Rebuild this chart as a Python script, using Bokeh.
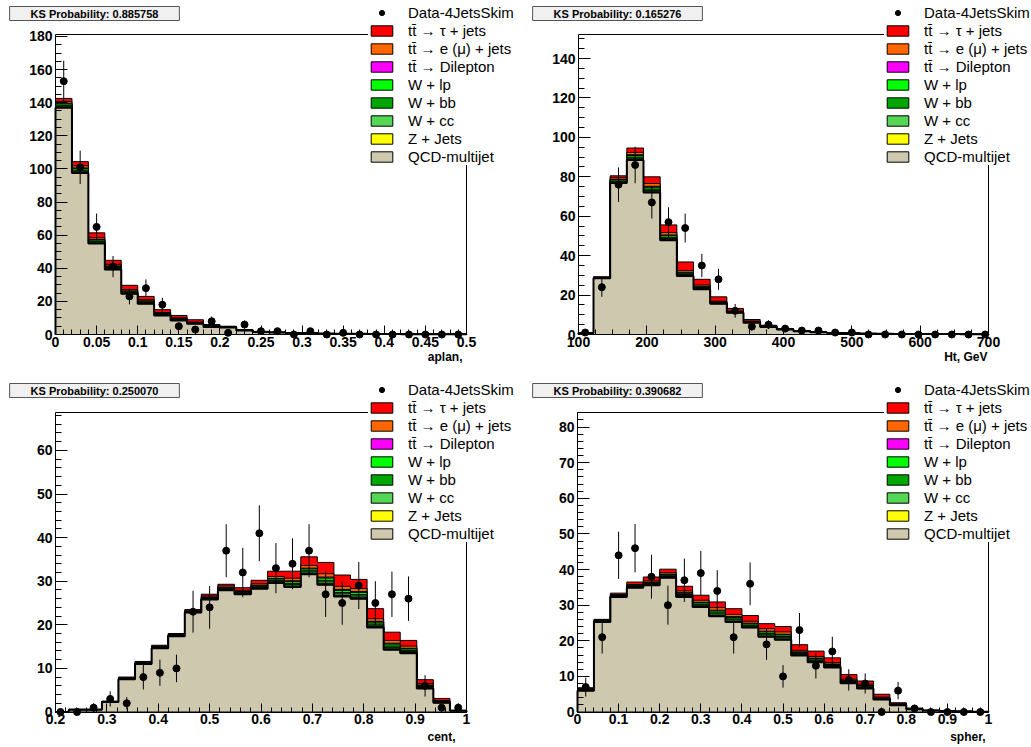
import numpy as np
from bokeh.plotting import figure
from bokeh.models import Range1d, FixedTicker, Label, Legend, LegendItem
from bokeh.layouts import row, column
from bokeh.embed import file_html
from bokeh.resources import INLINE

# ---------------- data ----------------
# aplan: 25 bins 0..0.5
aplan_range = (0.0, 0.5)
aplan_nbins = 25
aplan_qcd = [137.0, 97.5, 55.0, 39.2, 24.6, 18.6, 11.5, 8.5, 6.5, 4.5, 4.3, 2.4, 1.5, 1.2, 0.9, 0.8, 0.6, 0.5, 0.4, 0.3, 0.3, 0.2, 0.2, 0.1, 0.1]
aplan_z = [0.3, 0.4, 0.3, 0.3, 0.2, 0.2, 0.1, 0.1, 0.1, 0.1, 0.05, 0.05, 0, 0, 0, 0, 0, 0, 0, 0, 0, 0, 0, 0, 0]
aplan_wcc = [0.6, 0.7, 0.6, 0.5, 0.4, 0.4, 0.3, 0.3, 0.1, 0.1, 0.05, 0.05, 0.05, 0, 0, 0, 0, 0, 0, 0, 0, 0, 0, 0, 0]
aplan_wbb = [0.6, 0.7, 0.5, 0.5, 0.4, 0.4, 0.3, 0.3, 0.2, 0.2, 0.1, 0.05, 0.05, 0.05, 0, 0, 0, 0, 0, 0, 0, 0, 0, 0, 0]
aplan_wlp = [0.8, 0.9, 0.7, 0.6, 0.5, 0.5, 0.4, 0.3, 0.2, 0.2, 0.1, 0.1, 0.1, 0.05, 0.05, 0, 0, 0, 0, 0, 0, 0, 0, 0, 0]
aplan_dil = [0.4, 0.4, 0.3, 0.3, 0.2, 0.2, 0.2, 0.1, 0.1, 0.1, 0.05, 0.05, 0, 0, 0, 0, 0, 0, 0, 0, 0, 0, 0, 0, 0]
aplan_emu = [1.1, 1.3, 1.0, 1.0, 0.8, 0.7, 0.5, 0.5, 0.3, 0.3, 0.15, 0.1, 0.1, 0.05, 0.05, 0.05, 0, 0, 0, 0, 0, 0, 0, 0, 0]
aplan_tau = [1.8, 2.5, 3.0, 2.4, 2.6, 2.0, 1.7, 1.4, 1.4, 0.5, 0.2, 0.2, 0.1, 0.1, 0.1, 0.1, 0.05, 0.05, 0.05, 0, 0, 0, 0, 0, 0]
aplan_data = [153, 101, 65, 41, 23, 28, 18, 5, 3, 8, 1, 6, 2, 2, 0, 2, 0, 1, 0, 0, 0, 0, 0, 0, 0]
aplan_xticks = [0, 0.05, 0.1, 0.15, 0.2, 0.25, 0.3, 0.35, 0.4, 0.45, 0.5]
aplan_xlabels = ["0", "0.05", "0.1", "0.15", "0.2", "0.25", "0.3", "0.35", "0.4", "0.45", "0.5"]
aplan_yticks = [0, 20, 40, 60, 80, 100, 120, 140, 160, 180]

# Ht: bins of 1000/41 GeV, bins 4..28
ht_bin_width = 1000.0 / 41
ht_first_bin = 4
ht_nbins = 25
ht_qcd = [0.8, 28.5, 76.8, 88.5, 72.0, 47.8, 29.7, 22.9, 15.6, 11.0, 6.0, 3.8, 2.5, 1.7, 1.1, 0.8, 0.6, 0.5, 0.4, 0.3, 0.3, 0.2, 0.2, 0.1, 0.1]
ht_z = [0, 0, 0.2, 0.3, 0.4, 0.3, 0.2, 0.2, 0.1, 0.1, 0.1, 0.05, 0, 0, 0, 0, 0, 0, 0, 0, 0, 0, 0, 0, 0]
ht_wcc = [0.05, 0.1, 0.4, 0.6, 0.7, 0.6, 0.5, 0.4, 0.2, 0.1, 0.1, 0.05, 0.05, 0, 0, 0, 0, 0, 0, 0, 0, 0, 0, 0, 0]
ht_wbb = [0, 0.1, 0.4, 0.6, 0.7, 0.6, 0.4, 0.3, 0.2, 0.1, 0.1, 0.1, 0.05, 0.05, 0, 0, 0, 0, 0, 0, 0, 0, 0, 0, 0]
ht_wlp = [0.05, 0.1, 0.6, 0.8, 0.9, 0.8, 0.5, 0.4, 0.3, 0.2, 0.15, 0.1, 0.05, 0.05, 0.05, 0.05, 0.05, 0, 0, 0, 0, 0, 0, 0, 0]
ht_dil = [0, 0.05, 0.3, 0.4, 0.5, 0.4, 0.3, 0.2, 0.1, 0.1, 0.1, 0.05, 0.05, 0.05, 0, 0, 0, 0, 0, 0, 0, 0, 0, 0, 0]
ht_emu = [0, 0.15, 0.8, 1.2, 1.4, 1.2, 0.9, 0.7, 0.4, 0.3, 0.25, 0.15, 0.1, 0.05, 0.05, 0.05, 0, 0, 0, 0, 0, 0, 0, 0, 0]
ht_tau = [0, 0.3, 1.0, 2.2, 3.4, 3.9, 4.3, 2.9, 2.2, 1.3, 0.8, 0.4, 0.2, 0.1, 0.1, 0.05, 0.05, 0, 0, 0, 0, 0, 0, 0, 0]
ht_data = [1, 24, 76, 86, 67, 57, 54, 35, 28, 12, 4, 5, 3, 2, 2, 1, 1, 0, 0, 0, 0, 0, 0, 0, 0]
ht_xticks = [100, 200, 300, 400, 500, 600, 700]
ht_xlabels = ["100", "200", "300", "400", "500", "600", "700"]
ht_yticks = [0, 20, 40, 60, 80, 100, 120, 140]

# cent: bins of 1/31, bins 6..30
cent_bin_width = 1.0 / 31
cent_first_bin = 6
cent_nbins = 25
cent_qcd = [0, 0.5, 0.5, 2.3, 7.5, 11.0, 14.6, 17.4, 22.8, 25.8, 27.9, 27.0, 28.3, 29.6, 28.7, 31.6, 29.2, 26.5, 26.0, 19.4, 14.3, 13.5, 5.4, 2.1, 0.3]
cent_z = [0, 0.01, 0.01, 0.01, 0.03, 0.04, 0.05, 0.04, 0.04, 0.08, 0.1, 0.09, 0.11, 0.15, 0.2, 0.2, 0.25, 0.23, 0.23, 0.2, 0.21, 0.16, 0.11, 0.05, 0]
cent_wcc = [0, 0.02, 0.02, 0.02, 0.05, 0.06, 0.08, 0.06, 0.06, 0.12, 0.15, 0.14, 0.17, 0.22, 0.3, 0.3, 0.38, 0.35, 0.35, 0.3, 0.32, 0.24, 0.17, 0.08, 0.01]
cent_wbb = [0, 0.02, 0.02, 0.02, 0.05, 0.06, 0.08, 0.06, 0.06, 0.12, 0.15, 0.14, 0.17, 0.22, 0.3, 0.3, 0.38, 0.35, 0.35, 0.3, 0.32, 0.24, 0.17, 0.08, 0.01]
cent_wlp = [0, 0.02, 0.02, 0.02, 0.06, 0.08, 0.1, 0.08, 0.08, 0.16, 0.2, 0.18, 0.22, 0.3, 0.4, 0.4, 0.5, 0.46, 0.46, 0.4, 0.42, 0.32, 0.22, 0.1, 0.01]
cent_dil = [0, 0.01, 0.01, 0.01, 0.03, 0.04, 0.05, 0.04, 0.04, 0.08, 0.1, 0.09, 0.11, 0.15, 0.2, 0.2, 0.25, 0.23, 0.23, 0.2, 0.21, 0.16, 0.11, 0.05, 0]
cent_emu = [0, 0.03, 0.03, 0.03, 0.1, 0.12, 0.15, 0.12, 0.12, 0.25, 0.3, 0.27, 0.33, 0.45, 0.6, 0.6, 0.75, 0.7, 0.7, 0.6, 0.63, 0.5, 0.33, 0.15, 0.02]
cent_tau = [0, 0, 0, 0.1, 0.2, 0.2, 0.2, 0.2, 0.3, 0.4, 0.4, 0.6, 0.8, 1.2, 1.6, 2.0, 2.6, 2.6, 2.1, 2.3, 1.9, 1.3, 0.9, 0.5, 0.05]
cent_data = [0, 0, 1, 3, 2, 8, 9, 10, 23, 24, 37, 32, 41, 33, 34, 37, 27, 25, 29, 25, 27, 26, 6, 1, 1]
cent_xticks = [0.2, 0.3, 0.4, 0.5, 0.6, 0.7, 0.8, 0.9, 1.0]
cent_xlabels = ["0.2", "0.3", "0.4", "0.5", "0.6", "0.7", "0.8", "0.9", "1"]
cent_yticks = [0, 10, 20, 30, 40, 50, 60]

# spher: 25 bins 0..1
spher_range = (0.0, 1.0)
spher_nbins = 25
spher_qcd = [6.0, 25.3, 32.3, 34.9, 35.6, 37.7, 32.3, 29.5, 26.9, 25.3, 23.7, 21.1, 20.3, 15.9, 14.0, 12.5, 8.1, 6.6, 3.5, 1.9, 0.8, 0.4, 0.25, 0.15, 0.1]
spher_z = [0.07, 0.05, 0.07, 0.09, 0.12, 0.14, 0.17, 0.19, 0.24, 0.21, 0.18, 0.23, 0.22, 0.14, 0.16, 0.14, 0.11, 0.12, 0.07, 0.04, 0.02, 0, 0, 0, 0]
spher_wcc = [0.1, 0.08, 0.1, 0.13, 0.18, 0.21, 0.26, 0.28, 0.36, 0.32, 0.27, 0.34, 0.33, 0.21, 0.24, 0.21, 0.17, 0.18, 0.1, 0.06, 0.03, 0.01, 0.01, 0.01, 0]
spher_wbb = [0.1, 0.08, 0.1, 0.13, 0.18, 0.21, 0.26, 0.28, 0.36, 0.32, 0.27, 0.34, 0.33, 0.21, 0.24, 0.21, 0.17, 0.18, 0.1, 0.06, 0.03, 0.01, 0.01, 0.01, 0]
spher_wlp = [0.14, 0.1, 0.14, 0.18, 0.24, 0.28, 0.34, 0.38, 0.48, 0.42, 0.36, 0.46, 0.44, 0.28, 0.32, 0.28, 0.22, 0.24, 0.14, 0.08, 0.04, 0.01, 0.01, 0.01, 0]
spher_dil = [0.07, 0.05, 0.07, 0.09, 0.12, 0.14, 0.17, 0.19, 0.24, 0.21, 0.18, 0.23, 0.22, 0.14, 0.16, 0.14, 0.11, 0.12, 0.07, 0.04, 0.02, 0, 0, 0, 0]
spher_emu = [0.2, 0.15, 0.2, 0.27, 0.36, 0.42, 0.5, 0.57, 0.72, 0.63, 0.54, 0.7, 0.66, 0.42, 0.48, 0.42, 0.33, 0.36, 0.2, 0.12, 0.06, 0.02, 0.02, 0.02, 0]
spher_tau = [0.1, 0.2, 0.4, 0.7, 1.1, 1.0, 1.3, 1.4, 1.6, 1.6, 1.6, 1.4, 1.5, 1.6, 1.5, 1.3, 1.3, 0.9, 0.8, 0.3, 0.1, 0.05, 0.05, 0, 0]
spher_data = [7, 21, 44, 46, 38, 30, 37, 39, 34, 21, 36, 19, 10, 23, 13, 17, 9, 8, 0, 6, 1, 0, 0, 0, 0]
spher_xticks = [0, 0.1, 0.2, 0.3, 0.4, 0.5, 0.6, 0.7, 0.8, 0.9, 1.0]
spher_xlabels = ["0", "0.1", "0.2", "0.3", "0.4", "0.5", "0.6", "0.7", "0.8", "0.9", "1"]
spher_yticks = [0, 10, 20, 30, 40, 50, 60, 70, 80]

ks_values = ["0.885758", "0.165276", "0.250070", "0.390682"]
axis_titles = ["aplan,", "Ht, GeV", "cent,", "spher,"]

# ---------------- style ----------------
FONT = "Liberation Sans"
ORDER = ["qcd", "z", "wcc", "wbb", "wlp", "dil", "emu", "tau"]
LEGEND_ORDER = ["tau", "emu", "dil", "wlp", "wbb", "wcc", "z", "qcd"]
COLORS = dict(qcd="#cdc8ae", z="#ffff00", wcc="#55d655", wbb="#00a600",
              wlp="#00ff00", dil="#ff00ff", emu="#ff6600", tau="#ff0000")
LABELS = dict(tau="tt\u0304 \u2192 \u03c4 + jets", emu="tt\u0304 \u2192 e (\u03bc) + jets",
              dil="tt\u0304 \u2192 Dilepton", wlp="W + lp", wbb="W + bb", wcc="W + cc",
              z="Z + Jets", qcd="QCD-multijet")


def step_xy(edges, vals):
    xs = np.repeat(edges, 2)
    ys = np.concatenate([[0.0], np.repeat(vals, 2), [0.0]])
    return xs, ys


def make_panel(canvas, frame, xr, yr, edges, comps, data,
               xticks, xlabels, xminor, yticks, yminor,
               axis_title, title_dx, title_gap, ks_text, ks_center, leg_left, leg_bottom):
    cx0, cy0, cw, ch = canvas
    fx0, fy0, fx1, fy1 = frame
    sxs = (fx1 - fx0) / (xr[1] - xr[0])
    sys_ = (fy1 - fy0) / (yr[1] - yr[0])
    x_full = (xr[0] - (fx0 - cx0) / sxs, xr[1] + (cx0 + cw - fx1) / sxs)
    y_full = (yr[0] - (cy0 + ch - fy1) / sys_, yr[1] + (fy0 - cy0) / sys_)

    def scr_x(px):
        return px - cx0

    def scr_y(py):
        return cy0 + ch - py

    p = figure(width=cw, height=ch, x_range=Range1d(*x_full), y_range=Range1d(*y_full),
               output_backend="svg", toolbar_location=None,
               min_border_left=0, min_border_right=0, min_border_top=0, min_border_bottom=0)
    p.outline_line_color = None
    p.xgrid.visible = False
    p.ygrid.visible = False
    p.background_fill_color = "white"
    p.border_fill_color = "white"

    edges = np.asarray(edges, dtype=float)
    centers = (edges[:-1] + edges[1:]) / 2
    cedges = np.clip(edges, xr[0], xr[1])
    cum = np.zeros(len(centers))
    cums = {}
    for k in ORDER:
        cum = cum + np.asarray(comps[k], dtype=float)
        cums[k] = cum.copy()
    rends = {}
    for k in reversed(ORDER):
        xs, ys = step_xy(cedges, cums[k])
        rends[k] = p.patch(xs, ys, fill_color=COLORS[k], line_color="black", line_width=1)
    xs, ys = step_xy(cedges, cums["qcd"])
    p.line(xs, ys, line_color="black", line_width=2)

    d = np.asarray(data, dtype=float)
    err = np.sqrt(d)
    p.segment(centers, d - err, centers, d + err, line_color="black", line_width=1)
    dots = p.scatter(centers, d, size=7, marker="circle", fill_color="black", line_color="black")

    # frame top / right
    p.line([xr[0], xr[1]], [yr[1], yr[1]], line_color="black", line_width=1)
    p.line([xr[1], xr[1]], [yr[0], yr[1]], line_color="black", line_width=1)

    items = [LegendItem(label="Data-4JetsSkim", renderers=[dots])]
    for k in LEGEND_ORDER:
        items.append(LegendItem(label=LABELS[k], renderers=[rends[k]]))
    leg = Legend(items=items, location=(scr_x(leg_left), scr_y(leg_bottom)),
                 label_text_font=FONT, label_text_font_size="15px", label_text_color="black",
                 glyph_width=27, glyph_height=13, label_standoff=13, label_height=17,
                 spacing=1, padding=0, margin=0, border_line_color=None,
                 background_fill_color="white", background_fill_alpha=1.0)
    p.add_layout(leg)

    # axes drawn at the frame edges
    xa = p.xaxis[0]
    ya = p.yaxis[0]
    xa.fixed_location = yr[0]
    xa.bounds = xr
    ya.fixed_location = xr[0]
    ya.bounds = yr
    xa.ticker = FixedTicker(ticks=xticks, minor_ticks=xminor)
    xa.major_label_overrides = {t: s for t, s in zip(xticks, xlabels)}
    ya.ticker = FixedTicker(ticks=yticks, minor_ticks=yminor)
    for ax in (xa, ya):
        ax.axis_line_color = "black"
        ax.axis_line_width = 1
        ax.major_tick_line_color = "black"
        ax.minor_tick_line_color = "black"
        ax.major_tick_out = 0
        ax.minor_tick_out = 0
        ax.major_label_text_font = FONT
        ax.major_label_text_font_style = "bold"
        ax.major_label_text_font_size = "14px"
        ax.major_label_text_color = "black"
    xa.major_tick_in = 9
    xa.minor_tick_in = 5
    xa.major_label_standoff = 2
    ya.major_tick_in = 12
    ya.minor_tick_in = 6
    ya.major_label_standoff = 3

    # axis title, right aligned under the axis end
    p.add_layout(Label(x=scr_x(fx1 - title_dx), y=scr_y(fy1 + title_gap), x_units="screen", y_units="screen",
                       text=axis_title, text_align="right", text_baseline="top",
                       text_font=FONT, text_font_style="bold", text_font_size="12px",
                       text_color="black"))
    # KS box with shadow
    ks_cx = scr_x(cx0 + ks_center[0])
    ks_cy = scr_y(cy0 + ks_center[1])
    for dx, dy, fill, alpha, border in ((2, -2, "#555555", 0.0, None), (0, 0, "#f0f0f0", 1.0, "#555555")):
        p.add_layout(Label(x=ks_cx + dx, y=ks_cy + dy, x_units="screen", y_units="screen",
                           text=ks_text, text_align="center", text_baseline="middle",
                           text_font=FONT, text_font_style="bold", text_font_size="11px",
                           text_color="black", text_alpha=alpha,
                           background_fill_color=fill, background_fill_alpha=1.0,
                           border_line_color=border, border_line_width=1,
                           padding=(21, 1)))
    return p


def comps_of(prefix):
    g = globals()
    return {k: g[f"{prefix}_{k}"] for k in ORDER}


aplan_edges = np.linspace(aplan_range[0], aplan_range[1], aplan_nbins + 1)
ht_edges = (np.arange(ht_nbins + 1) + ht_first_bin) * ht_bin_width
cent_edges = (np.arange(cent_nbins + 1) + cent_first_bin) * cent_bin_width
spher_edges = np.linspace(spher_range[0], spher_range[1], spher_nbins + 1)

p1 = make_panel((0, 0, 515, 377), (55, 34, 466, 334), (0, 0.5), (0, 181.2),
                aplan_edges, comps_of("aplan"), aplan_data,
                aplan_xticks, aplan_xlabels, list(np.round(np.arange(0, 0.5001, 0.01), 3)),
                aplan_yticks, list(range(0, 181, 5)),
                axis_titles[0], 4, 15, "KS Probability: " + ks_values[0], (94, 13), 368, 165)
p2 = make_panel((515, 0, 516, 377), (578, 34, 988, 334), (100, 700), (0, 152.2),
                ht_edges, comps_of("ht"), ht_data,
                ht_xticks, ht_xlabels, list(range(100, 701, 25)),
                ht_yticks, list(range(0, 151, 5)),
                axis_titles[1], 1, 15, "KS Probability: " + ks_values[1], (102, 13), 884, 165)
p3 = make_panel((0, 377, 515, 370), (55, 412, 466, 711.5), (0.2, 1.0), (0, 68.7),
                cent_edges, comps_of("cent"), cent_data,
                cent_xticks, cent_xlabels, list(np.round(np.arange(0.2, 1.0001, 0.02), 3)),
                cent_yticks, list(range(0, 69, 2)),
                axis_titles[2], 11, 18, "KS Probability: " + ks_values[2], (94, 13), 368, 542)
p4 = make_panel((515, 377, 516, 370), (577, 412, 988, 711.5), (0, 1.0), (0, 84.1),
                spher_edges, comps_of("spher"), spher_data,
                spher_xticks, spher_xlabels, list(np.round(np.arange(0, 1.0001, 0.02), 3)),
                spher_yticks, list(range(0, 85, 2)),
                axis_titles[3], 3, 18, "KS Probability: " + ks_values[3], (102, 13), 884, 542)

layout = column(row(p1, p2), row(p3, p4))
open("out.html", "w").write(file_html(layout, INLINE))
